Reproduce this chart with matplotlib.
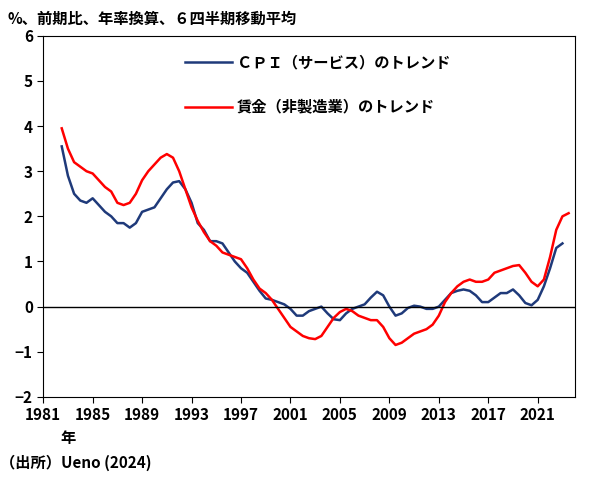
import numpy as np
import matplotlib.pyplot as plt

plt.rcParams['font.family'] = ['Noto Sans CJK JP', 'DejaVu Sans']
plt.rcParams['font.weight'] = 'bold'

cpi = [3.55, 2.9, 2.5, 2.35, 2.3, 2.4, 2.25, 2.1, 2.0, 1.85, 1.85, 1.75, 1.85, 2.1, 2.15,
       2.2, 2.4, 2.6, 2.75, 2.78, 2.6, 2.3, 1.85, 1.7, 1.45, 1.45, 1.4, 1.2, 1.0, 0.85,
       0.75, 0.55, 0.35, 0.18, 0.15, 0.1, 0.05, -0.05, -0.2, -0.2, -0.1, -0.05, 0.0, -0.15,
       -0.28, -0.3, -0.15, -0.05, 0.0, 0.05, 0.2, 0.33, 0.25, 0.0, -0.2, -0.15, -0.03, 0.02,
       0.0, -0.05, -0.05, 0.0, 0.15, 0.3, 0.35, 0.38, 0.35, 0.25, 0.1, 0.1, 0.2, 0.3, 0.3,
       0.38, 0.25, 0.08, 0.03, 0.15, 0.45, 0.85, 1.3, 1.4]
wage = [3.95, 3.5, 3.2, 3.1, 3.0, 2.95, 2.8, 2.65, 2.55, 2.3, 2.25, 2.3, 2.5, 2.8, 3.0,
        3.15, 3.3, 3.38, 3.3, 3.0, 2.6, 2.2, 1.9, 1.65, 1.45, 1.35, 1.2, 1.15, 1.1, 1.05,
        0.85, 0.6, 0.4, 0.3, 0.15, -0.05, -0.25, -0.45, -0.55, -0.65, -0.7, -0.72, -0.65, -0.45,
        -0.25, -0.12, -0.05, -0.1, -0.2, -0.25, -0.3, -0.3, -0.45, -0.7, -0.85, -0.8, -0.7, -0.6,
        -0.55, -0.5, -0.4, -0.2, 0.1, 0.3, 0.45, 0.55, 0.6, 0.55, 0.55, 0.6, 0.75, 0.8,
        0.85, 0.9, 0.92, 0.75, 0.55, 0.45, 0.6, 1.1, 1.7, 2.0, 2.07]
years_w = 1982.5 + 0.5 * np.arange(len(wage))
years_c = 1982.5 + 0.5 * np.arange(len(cpi))

fig = plt.figure(figsize=(6, 4.84), dpi=100)
ax = fig.add_axes([0.072, 0.18, 0.886, 0.746])
ax.plot(years_c, cpi, color='#1f3a7a', lw=1.8)
ax.plot(years_w, wage, color='#ff0000', lw=1.8)
ax.axhline(0, color='black', lw=1)
ax.set_xlim(1981, 2024)
ax.set_ylim(-2, 6)
ax.set_xticks(range(1981, 2022, 4))
ax.set_yticks(range(-2, 7))
ax.tick_params(labelsize=11, length=4)
for s in ax.spines.values():
    s.set_color('black')

ax.plot([1992.5, 1996.3], [5.42, 5.42], color='#1f3a7a', lw=1.8)
ax.text(1996.7, 5.42, 'ＣＰＩ（サービス）のトレンド', va='center', fontsize=11)
ax.plot([1992.5, 1996.3], [4.43, 4.43], color='#ff0000', lw=1.8)
ax.text(1996.7, 4.43, '賃金（非製造業）のトレンド', va='center', fontsize=11)

fig.text(0.013, 0.962, '%、前期比、年率換算、６四半期移動平均', fontsize=11, va='center')
fig.text(0.1, 0.095, '年', fontsize=11, va='center')
fig.text(0.0, 0.043, '（出所）Ueno (2024)', fontsize=11, va='center')

fig.savefig('out.png')
